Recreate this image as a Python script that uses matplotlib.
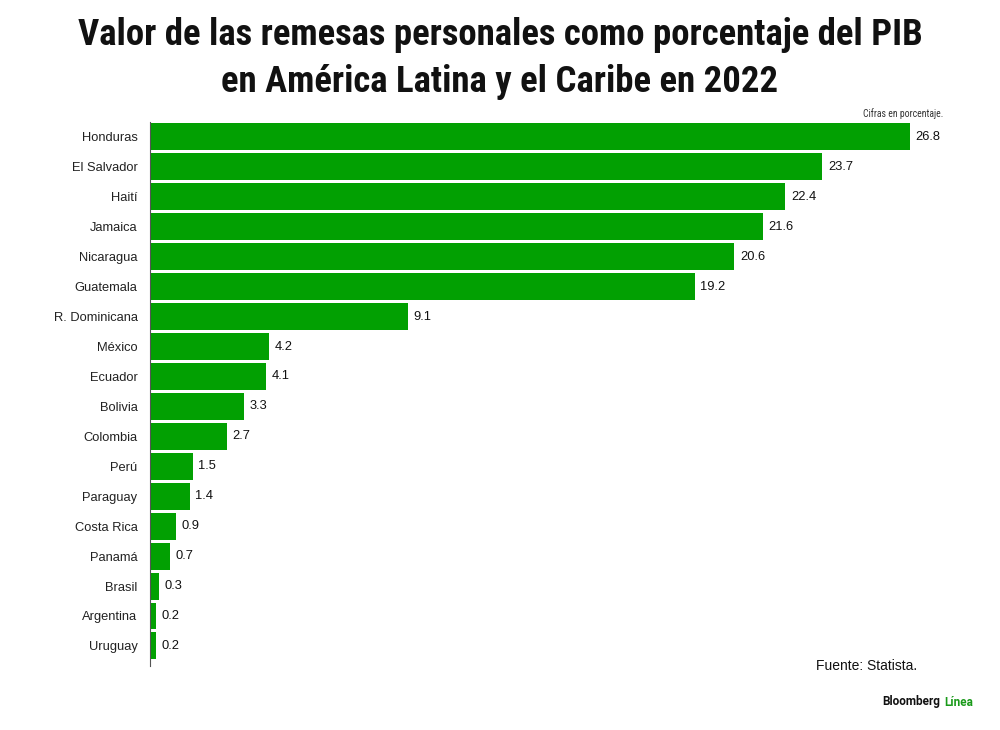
import matplotlib
matplotlib.use("Agg")
import matplotlib.pyplot as plt

paises = ["Honduras", "El Salvador", "Haití", "Jamaica", "Nicaragua", "Guatemala",
          "R. Dominicana", "México", "Ecuador", "Bolivia", "Colombia", "Perú",
          "Paraguay", "Costa Rica", "Panamá", "Brasil", "Argentina", "Uruguay"]
valores = [26.8, 23.7, 22.4, 21.6, 20.6, 19.2, 9.1, 4.2, 4.1, 3.3, 2.7, 1.5,
           1.4, 0.9, 0.7, 0.3, 0.2, 0.2]

verde = "#02a002"
plt.rcParams["font.family"] = ["Liberation Sans", "DejaVu Sans"]
estrecha = ["Roboto Condensed", "DejaVu Sans"]

fig = plt.figure(figsize=(10, 7.3), dpi=100)
ax = fig.add_axes([0.15, 0.0877, 0.85, 0.7452])

pos = list(range(len(paises)))
ax.barh(pos, valores, height=0.9, color=verde)
for p, v in zip(pos, valores):
    ax.text(v + 0.2, p, f"{v}", va="center", ha="left", fontsize=9.3, color="#111111")

ax.set_xlim(0, 29.97)
ax.set_ylim(17.67, -0.5)
ax.set_yticks(pos)
ax.set_yticklabels(paises, fontsize=9.3, color="#222222")
ax.tick_params(axis="y", length=0, pad=9)
ax.set_xticks([])
for s in ["top", "right", "bottom"]:
    ax.spines[s].set_visible(False)
ax.spines["left"].set_color("#555555")
ax.spines["left"].set_linewidth(0.8)

fig.text(0.5, 1 - 35 / 730, "Valor de las remesas personales como porcentaje del PIB",
         ha="center", va="center", fontsize=26.5, fontweight="bold", family=estrecha, color="#111111")
fig.text(0.5, 1 - 82 / 730, "en América Latina y el Caribe en 2022",
         ha="center", va="center", fontsize=26.5, fontweight="bold", family=estrecha, color="#111111")

fig.text(0.943, 1 - 114 / 730, "Cifras en porcentaje.", ha="right", va="center", fontsize=7,
         family=estrecha, color="#333333")
fig.text(0.917, 1 - 666 / 730, "Fuente: Statista.", ha="right", va="center", fontsize=10, color="#111111")
fig.text(0.882, 1 - 702 / 730, "Bloomberg", ha="left", va="center", fontsize=8.5, fontweight="bold",
         family=["Roboto", "DejaVu Sans"], color="#111111")
fig.text(0.944, 1 - 702 / 730, "Línea", ha="left", va="center", fontsize=8.5, fontweight="bold",
         family=["Roboto", "DejaVu Sans"], color="#1a9a1a")

plt.savefig("out.png", dpi=100)
